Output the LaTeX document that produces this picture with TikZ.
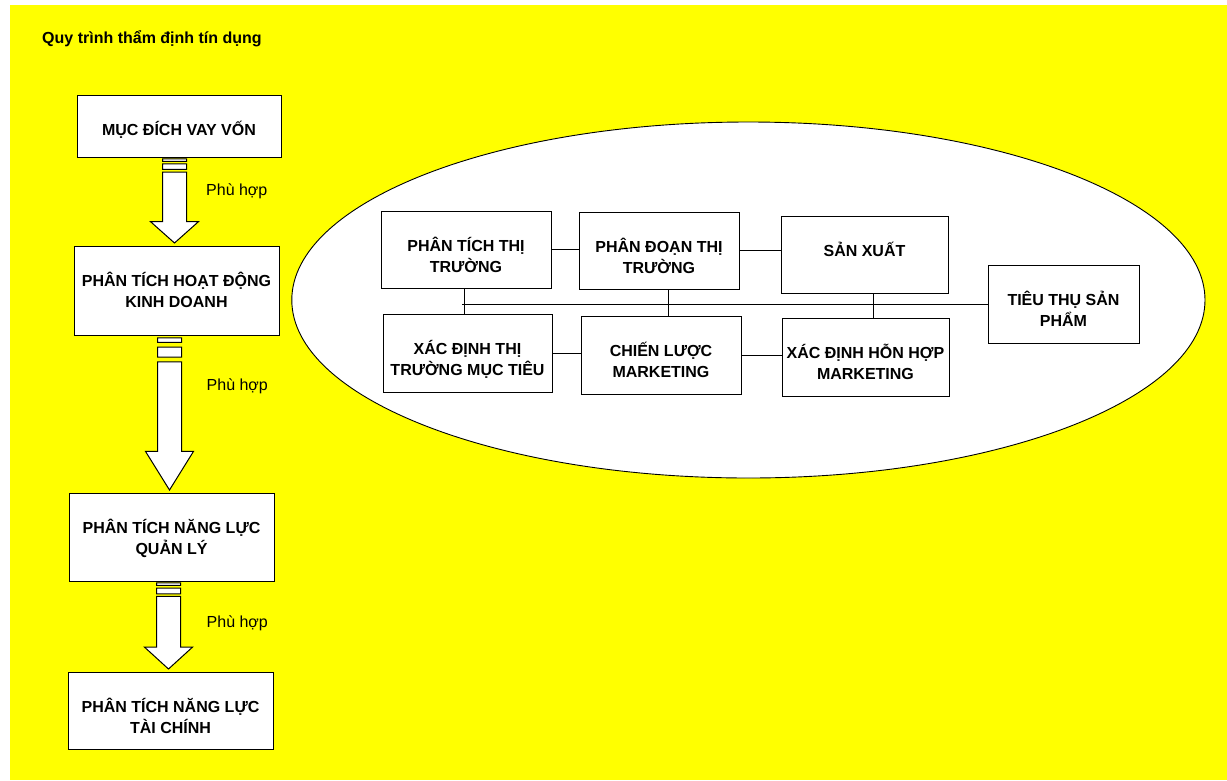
\documentclass[tikz,border=0pt]{standalone}
\usepackage{fontspec}
\setmainfont{Liberation Sans}
\usetikzlibrary{calc}
\definecolor{sheet}{RGB}{255,255,0}

% block arrow with two stripes at its tail, from one box down to the next
\newcommand{\stripearrow}[2]{%
  \path[fat] let \p1=(#1.south), \p2=([xshift=-2pt,yshift=2.5pt]#2.north), \n1={\y1-\y2} in
    (\x2-12pt,\y1-0.015*\n1) rectangle (\x2+12pt,\y1-0.045*\n1)
    (\x2-12pt,\y1-0.075*\n1) rectangle (\x2+12pt,\y1-0.14*\n1)
    (\x2-12pt,\y1-0.17*\n1) -- (\x2-12pt,\y1-0.75*\n1) -- (\x2-24pt,\y1-0.75*\n1)
    -- (\x2,\y2) -- (\x2+24pt,\y1-0.75*\n1) -- (\x2+12pt,\y1-0.75*\n1)
    -- (\x2+12pt,\y1-0.17*\n1) -- cycle;}

\begin{document}
\begin{tikzpicture}[x=1pt,y=1pt,
  cell/.style={draw,fill=white,line width=1pt,inner xsep=2pt,inner ysep=0pt,align=center,
    font=\bfseries\fontsize{16}{21.5}\selectfont,text height=40pt},
  box/.style 2 args={cell,minimum width=#1pt,text depth=#2pt},
  two/.style={text height=61.5pt},
  fat/.style={draw,fill=white,line width=1pt,line join=miter},
  lbl/.style={anchor=base west,inner sep=0pt,font=\fontsize{16}{19}\selectfont},
  link/.style={line width=0.9pt}]
\useasboundingbox (0,0) rectangle (1227,-780);
\fill[sheet] (10,-5) rectangle (1227,-780);
\node (title) [lbl,font=\bfseries\fontsize{16}{19}\selectfont] at (42,-43.7) {Quy trình thẩm định tín dụng};

% left column
\node (m1) [box={204}{22}] at (179,-126) {MỤC ĐÍCH VAY VỐN};
\node (m2) [box={205}{27.5},two] at (176.5,-290.5) {PHÂN TÍCH HOẠT ĐỘNG\\KINH DOANH};
\node (m3) [box={205}{26.5},two] at (171.5,-537) {PHÂN TÍCH NĂNG LỰC\\QUẢN LÝ};
\node (m4) [box={205}{15.5},two] at (170.5,-710.5) {PHÂN TÍCH NĂNG LỰC\\TÀI CHÍNH};
\stripearrow{m1}{m2}
\stripearrow{m2}{m3}
\stripearrow{m3}{m4}
\node (p1) [lbl] at (206,-195) {Phù hợp};
\node (p2) [lbl] at (206.5,-390) {Phù hợp};
\node (p3) [lbl] at (206.5,-627) {Phù hợp};

% ellipse with the business analysis
\draw[fill=white,line width=0.9pt] (748.4,-300) ellipse [x radius=456.6,y radius=178];
\node (a1) [box={170}{15.5},two] at (466,-249.5) {PHÂN TÍCH THỊ\\TRƯỜNG};
\node (a2) [box={160}{15.5},two] at (659,-250.5) {PHÂN ĐOẠN THỊ\\TRƯỜNG};
\node (a3) [box={167}{37}] at (864.5,-254.5) {SẢN XUẤT};
\node (a4) [box={151}{16.5},two] at (1063.5,-304) {TIÊU THỤ SẢN\\PHẨM};
\node (b1) [box={169}{16.5},two] at (467.5,-353) {XÁC ĐỊNH THỊ\\TRƯỜNG MỤC TIÊU};
\node (b2) [box={160}{16.5},two] at (661,-355) {CHIẾN LƯỢC\\MARKETING};
\node (b3) [box={167}{16.5},two] at (865.5,-357) {XÁC ĐỊNH HỖN HỢP\\MARKETING};

\draw[link] (a1.east) -- (a1.east -| a2.west);
\draw[link] (a2.east) -- (a2.east -| a3.west);
\draw[link] (b1.east) -- (b1.east -| b2.west);
\draw[link] (b2.east) -- (b2.east -| b3.west);
\draw[link] ([xshift=-2pt]a1.south) -- ([xshift=-2pt]a1.south |- b1.north);
\draw[link] ([xshift=9pt]a2.south) -- ([xshift=9pt]a2.south |- b2.north);
\draw[link] ([xshift=9pt]a3.south) -- ([xshift=9pt]a3.south |- b3.north);
\draw[link] ([xshift=-4pt]a1.south |- a4.west) -- (a4.west);
\end{tikzpicture}
\end{document}
